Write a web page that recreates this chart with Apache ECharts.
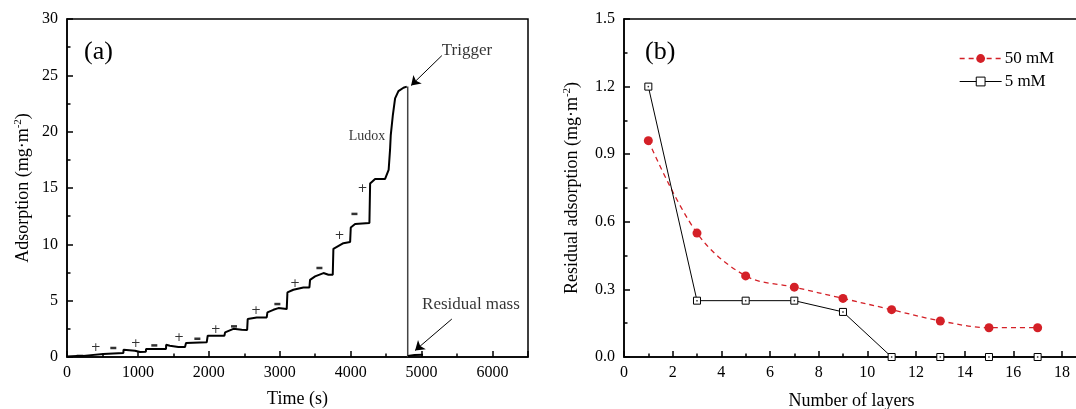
<!DOCTYPE html>
<html>
<head>
<meta charset="utf-8">
<script src="https://cdn.jsdelivr.net/npm/echarts@6/dist/echarts.min.js"></script>
<style>html,body{margin:0;padding:0;background:#fff}#c{width:1076px;height:409px}</style>
</head>
<body>
<div id="c"></div>
<script>
// ---------- Panel (a) data ----------
var curveTime = [0, 137, 230, 512, 795, 797, 959, 1030, 1112, 1114, 1396, 1398, 1450, 1570, 1664, 1678, 1970, 1984, 2219, 2229, 2346, 2464, 2540, 2548, 2675, 2816, 2826, 2910, 2981, 3098, 3108, 3192, 3333, 3418, 3427, 3498, 3616, 3686, 3747, 3756, 3897, 3992, 4001, 4062, 4264, 4274, 4344, 4485, 4508, 4535, 4555, 4565, 4595, 4626, 4673, 4744, 4791];
var curveAds  = [0.05, 0.1, 0.1, 0.26, 0.35, 0.65, 0.56, 0.44, 0.46, 0.71, 0.71, 1.09, 1.0, 0.89, 0.89, 1.24, 1.3, 1.89, 1.89, 2.18, 2.5, 2.42, 2.4, 3.37, 3.51, 3.51, 3.96, 4.19, 4.34, 4.25, 5.73, 5.97, 6.17, 6.17, 6.85, 7.15, 7.45, 7.3, 7.3, 9.6, 10.1, 10.2, 11.5, 11.8, 11.9, 15.4, 15.8, 15.8, 15.9, 16.6, 18.4, 19.7, 21.5, 22.96, 23.6, 23.9, 24.0];
var dropTime = [4804, 4804];
var dropAds = [24.0, 0];
var residualTime = [4806, 4900, 5020];
var residualAds = [0.08, 0.18, 0.2];
var signTime = [405, 653, 969, 1231, 1580, 1838, 2097, 2355, 2666, 2966, 3216, 3559, 3841, 4053, 4166];
var signAds  = [0.8, 0.8, 1.15, 1.03, 1.68, 1.62, 2.42, 2.72, 4.1, 4.7, 6.5, 7.9, 10.75, 12.7, 14.9];
var signText = ['+', '−', '+', '−', '+', '−', '+', '−', '+', '−', '+', '−', '+', '−', '+'];
var noteText = ['Trigger', 'Ludox', 'Residual mass'];
var noteTime = [5285, 4231, 5007];
var noteAds  = [27.2, 19.6, 4.64];
var arrowFrom = [[5285, 26.75], [5426, 3.37]];
var arrowTo   = [[4852, 24.1], [4908, 0.58]];
var timeTicks = [0, 1000, 2000, 3000, 4000, 5000, 6000];

// ---------- Panel (b) data ----------
var layers = [1, 3, 5, 7, 9, 11, 13, 15, 17];
var res50mM = [0.96, 0.55, 0.36, 0.31, 0.26, 0.21, 0.16, 0.13, 0.13];
var res5mM  = [1.2, 0.25, 0.25, 0.25, 0.2, 0, 0, 0, 0];
var seriesNames = ['50 mM', '5 mM'];

function zip(a, b) { return a.map(function (x, i) { return [x, b[i]]; }); }

var FONT = "'Liberation Serif', 'DejaVu Serif', serif";
var AX = { color: '#000', width: 1.5 };
var RED = '#d42027';
var chart = echarts.init(document.getElementById('c'), null, { renderer: 'canvas' });

var supRich = { sup: { fontFamily: FONT, fontSize: 11, color: '#000', verticalAlign: 'top', padding: [0, 0, 9, 0] } };

var option = {
  animation: false,
  backgroundColor: '#fff',
  textStyle: { fontFamily: FONT },
  title: [
    { text: '(a)', left: 79, top: 34, textStyle: { fontFamily: FONT, fontSize: 26, fontWeight: 'normal', color: '#000' } },
    { text: '(b)', left: 640, top: 34, textStyle: { fontFamily: FONT, fontSize: 26, fontWeight: 'normal', color: '#000' } }
  ],
  legend: {
    data: [
      { name: seriesNames[0], lineStyle: { type: [5, 4], width: 1.3, color: RED }, itemStyle: { color: RED } },
      { name: seriesNames[1], lineStyle: { type: 'solid', width: 1, color: '#000' }, itemStyle: { color: '#fff', borderColor: '#000', borderWidth: 1 } }
    ],
    orient: 'vertical',
    left: 954,
    top: 45,
    padding: 5,
    itemWidth: 42,
    itemHeight: 11,
    itemGap: 6,
    textStyle: { fontFamily: FONT, fontSize: 17, color: '#000', padding: [0, 0, 0, -2] }
  },
  grid: [
    { left: 67, top: 19, width: 461, height: 338, show: true, borderColor: '#000', borderWidth: 1.5, outerBoundsMode: 'none', containLabel: false },
    { left: 624, top: 19, right: -3, height: 338, show: true, borderColor: '#000', borderWidth: 1.5, outerBoundsMode: 'none', containLabel: false }
  ],
  xAxis: [
    {
      type: 'value', gridIndex: 0, min: 0, max: 6500, interval: 1000, position: 'bottom',
      name: 'Time (s)', nameLocation: 'middle', nameGap: 33,
      nameTextStyle: { fontFamily: FONT, fontSize: 18, color: '#000' },
      axisLine: { lineStyle: AX },
      axisTick: { inside: true, length: 6, lineStyle: AX },
      axisLabel: { fontFamily: FONT, fontSize: 16, color: '#000', margin: 8,
        formatter: function (v) { return timeTicks.indexOf(v) >= 0 ? String(v) : ''; } },
      splitLine: { show: false }
    },
    {
      type: 'value', gridIndex: 0, min: 0, max: 6500, interval: 500, position: 'bottom',
      axisLine: { show: false },
      axisTick: { inside: true, length: 3.5, lineStyle: AX },
      axisLabel: { show: false },
      splitLine: { show: false }
    },
    {
      type: 'value', gridIndex: 1, min: 0, max: 18.7, interval: 2, position: 'bottom',
      name: 'Number of layers', nameLocation: 'middle', nameGap: 35,
      nameTextStyle: { fontFamily: FONT, fontSize: 18, color: '#000' },
      axisLine: { lineStyle: AX },
      axisTick: { inside: true, length: 6, lineStyle: AX },
      minorTick: { show: true, splitNumber: 2, length: 3.5, lineStyle: AX },
      axisLabel: { fontFamily: FONT, fontSize: 16, color: '#000', margin: 8,
        formatter: function (v) { return (Math.abs(v % 2) < 1e-9) ? String(v) : ''; } },
      splitLine: { show: false }
    }
  ],
  yAxis: [
    {
      type: 'value', gridIndex: 0, min: 0, max: 30, interval: 5,
      name: 'Adsorption (mg·m{sup|-2})', nameLocation: 'middle', nameGap: 34,
      nameTextStyle: { fontFamily: FONT, fontSize: 18, color: '#000', rich: supRich },
      axisLine: { lineStyle: AX },
      axisTick: { inside: true, length: 6, lineStyle: AX },
      minorTick: { show: true, splitNumber: 2, length: 3.5, lineStyle: AX },
      axisLabel: { fontFamily: FONT, fontSize: 16, color: '#000', margin: 9 },
      splitLine: { show: false }
    },
    {
      type: 'value', gridIndex: 1, min: 0, max: 1.5, interval: 0.3,
      name: 'Residual adsorption (mg·m{sup|-2})', nameLocation: 'middle', nameGap: 42,
      nameTextStyle: { fontFamily: FONT, fontSize: 18, color: '#000', rich: supRich },
      axisLine: { lineStyle: AX },
      axisTick: { inside: true, length: 6, lineStyle: AX },
      minorTick: { show: true, splitNumber: 2, length: 3.5, lineStyle: AX },
      axisLabel: { fontFamily: FONT, fontSize: 16, color: '#000', margin: 9,
        formatter: function (v) { return v.toFixed(1); } },
      splitLine: { show: false }
    }
  ],
  series: [
    {
      name: 'curve', type: 'line', xAxisIndex: 0, yAxisIndex: 0,
      data: zip(curveTime, curveAds), showSymbol: false, symbol: 'none',
      lineStyle: { color: '#000', width: 2 }, silent: true, z: 3
    },
    {
      name: 'drop', type: 'line', xAxisIndex: 0, yAxisIndex: 0,
      data: zip(dropTime, dropAds), symbol: 'none',
      itemStyle: { color: '#000' },
      lineStyle: { color: '#444', width: 1.5 }, silent: true,
      markLine: {
        silent: true, symbol: ['none', 'arrow'], symbolSize: 9,
        label: { show: false },
        itemStyle: { color: '#000' },
        lineStyle: { color: '#000', width: 1, type: 'solid' },
        emphasis: { disabled: true },
        data: arrowFrom.map(function (f, i) { return [{ coord: f }, { coord: arrowTo[i] }]; })
      }
    },
    {
      name: 'residual', type: 'line', xAxisIndex: 0, yAxisIndex: 0,
      data: zip(residualTime, residualAds), symbol: 'none',
      lineStyle: { color: '#000', width: 2 }, silent: true, z: 3
    },
    {
      name: 'signs', type: 'scatter', xAxisIndex: 0, yAxisIndex: 0,
      data: signTime.map(function (t, i) { return { value: [t, signAds[i]], name: signText[i] }; }),
      symbolSize: 1, itemStyle: { color: 'rgba(0,0,0,0)' }, silent: true,
      label: { show: true, position: 'inside',
        formatter: function (p) { return p.name === '+' ? '{p|+}' : '{m| }'; },
        fontFamily: FONT, fontSize: 15, color: '#000',
        rich: {
          p: { fontFamily: 'DejaVu Sans', fontSize: 12, color: '#000' },
          m: { width: 6, height: 2.5, backgroundColor: '#000', fontSize: 2, lineHeight: 2.5 }
        } }
    },
    {
      name: 'notes', type: 'scatter', xAxisIndex: 0, yAxisIndex: 0,
      data: noteTime.map(function (t, i) {
        return { value: [t, noteAds[i]], name: noteText[i],
          label: { align: i === 1 ? 'center' : 'left', fontSize: i === 1 ? 14 : 17 } };
      }),
      symbolSize: 1, itemStyle: { color: 'rgba(0,0,0,0)' }, silent: true,
      label: { show: true, position: 'inside', formatter: function (p) { return p.name; },
        fontFamily: FONT, color: '#000', verticalAlign: 'middle' }
    },
    {
      name: seriesNames[0], type: 'line', xAxisIndex: 2, yAxisIndex: 1,
      data: zip(layers, res50mM), smooth: 0.35,
      symbol: 'circle', symbolSize: 9,
      itemStyle: { color: RED },
      lineStyle: { color: RED, width: 1.3, type: [5, 4] }, z: 3
    },
    {
      name: seriesNames[1], type: 'line', xAxisIndex: 2, yAxisIndex: 1,
      data: zip(layers, res5mM),
      symbol: 'rect', symbolSize: 7,
      itemStyle: { color: '#fff', borderColor: '#000', borderWidth: 1 },
      lineStyle: { color: '#000', width: 1 }, z: 4
    },
    {
      name: 'dots', type: 'scatter', xAxisIndex: 2, yAxisIndex: 1,
      data: zip(layers, res5mM), symbol: 'rect', symbolSize: 1.5,
      itemStyle: { color: '#000' }, silent: true, z: 5
    }
  ]
};
chart.setOption(option);
</script>
</body>
</html>
